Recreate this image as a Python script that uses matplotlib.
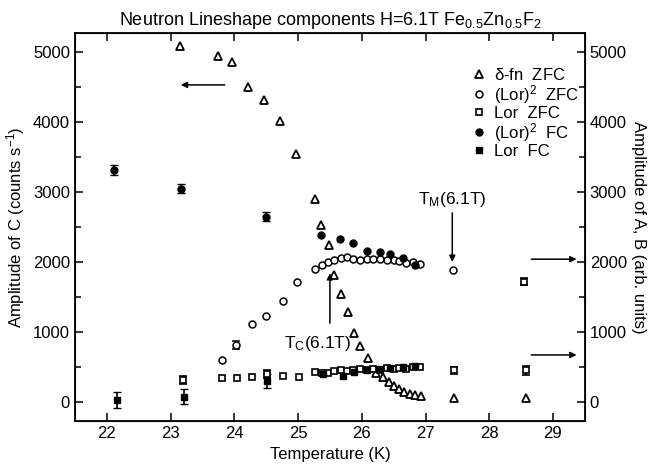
import numpy as np
import matplotlib.pyplot as plt

plt.rcParams['font.family'] = ['Liberation Sans', 'DejaVu Sans']
plt.rcParams['mathtext.fontset'] = 'custom'
plt.rcParams['mathtext.rm'] = 'Liberation Sans'
plt.rcParams['mathtext.it'] = 'Liberation Sans'

# delta-fn ZFC (triangles)
t_delta = [23.14, 23.74, 23.97, 24.21, 24.47, 24.71, 24.97, 25.26, 25.36, 25.48,
           25.57, 25.67, 25.79, 25.88, 25.97, 26.10, 26.22, 26.33, 26.42, 26.51,
           26.59, 26.67, 26.75, 26.83, 26.93, 27.44, 28.57]
a_delta = [5086, 4947, 4861, 4496, 4314, 4019, 3543, 2896, 2524, 2247,
           1810, 1538, 1290, 981, 800, 633, 420, 350, 290, 230,
           180, 140, 115, 95, 85, 52, 52]

# (Lor)^2 ZFC (open circles)
t_lor2_zfc = [23.80, 24.27, 24.50, 24.76, 24.99, 25.27, 25.37, 25.47, 25.57, 25.67,
              25.77, 25.87, 25.97, 26.08, 26.18, 26.29, 26.39, 26.50, 26.59, 26.70,
              26.80, 26.92, 27.43]
a_lor2_zfc = [600, 1114, 1233, 1438, 1719, 1900, 1953, 2000, 2024, 2061,
              2067, 2047, 2029, 2043, 2039, 2039, 2033, 2024, 2014, 1981,
              1996, 1967, 1881]

# Lor ZFC (open squares)
t_lor_zfc = [23.80, 24.04, 24.27, 24.76, 25.01, 25.27, 25.37, 25.47, 25.57, 25.67,
             25.77, 25.87, 25.97, 26.08, 26.18, 26.29, 26.39, 26.50, 26.59, 26.70,
             26.80, 26.92]
a_lor_zfc = [347, 347, 357, 376, 361, 429, 410, 420, 440, 450,
             440, 460, 470, 450, 470, 460, 480, 470, 490, 470,
             500, 500]

# (Lor)^2 FC (filled circles)
t_lor2_fc = [25.36, 25.66, 25.86, 26.08, 26.29, 26.44, 26.65, 26.84]
a_lor2_fc = [2390, 2333, 2271, 2161, 2143, 2114, 2061, 1957]

# Lor FC (filled squares)
t_lor_fc = [25.39, 25.70, 25.88, 26.08, 26.29, 26.44, 26.65, 26.84]
a_lor_fc = [400, 376, 433, 460, 470, 480, 500, 520]

# points with error bars
t_c_err = [22.12, 23.17, 24.49]
a_c_err = [3314, 3047, 2647]
e_c_err = [70, 65, 60]

t_fc_err = [22.16, 23.21, 24.52]
a_fc_err = [29, 76, 300]
e_fc_err = [110, 105, 95]

t_zfc_err = [23.20, 24.52, 27.44, 28.57, 28.55]
a_zfc_err = [314, 400, 450, 450, 1719]
e_zfc_err = [60, 60, 55, 60, 50]

t_circ_err = [24.03]
a_circ_err = [814]
e_circ_err = [55]

fig, ax = plt.subplots(figsize=(6.52, 4.72), dpi=100)
fig.subplots_adjust(left=0.115, right=0.897, top=0.930, bottom=0.107)

ms = 5
ax.plot(t_delta, a_delta, '^', ms=6, mfc='white', mec='k', mew=1.3, label=r'$\delta$-fn  ZFC')
ax.plot(t_lor2_zfc, a_lor2_zfc, 'o', ms=ms, mfc='white', mec='k', mew=1.1, label='(Lor)$^2$  ZFC')
ax.plot(t_lor_zfc, a_lor_zfc, 's', ms=ms, mfc='white', mec='k', mew=1.2, label='Lor  ZFC')
ax.plot(t_lor2_fc, a_lor2_fc, 'o', ms=ms, mfc='k', mec='k', label='(Lor)$^2$  FC')
ax.plot(t_lor_fc, a_lor_fc, 's', ms=ms - 0.5, mfc='k', mec='k', label='Lor  FC')

ax.errorbar(t_c_err, a_c_err, yerr=e_c_err, fmt='o', ms=ms, color='k', capsize=3, elinewidth=1.2)
ax.errorbar(t_fc_err, a_fc_err, yerr=e_fc_err, fmt='s', ms=ms - 0.5, color='k', capsize=3, elinewidth=1.2)
ax.errorbar(t_zfc_err, a_zfc_err, yerr=e_zfc_err, fmt='s', ms=ms, mfc='white', mec='k', mew=1.2,
            ecolor='k', capsize=3, elinewidth=1.2)
ax.errorbar(t_circ_err, a_circ_err, yerr=e_circ_err, fmt='o', ms=ms, mfc='white', mec='k', mew=1.1,
            ecolor='k', capsize=3, elinewidth=1.2)

ax.set_xlim(21.5, 29.5)
ax.set_ylim(-280, 5270)
ax.set_xticks(np.arange(22, 30, 1))
ax.set_yticks(np.arange(0, 5001, 1000))
ax.set_yticks(np.arange(500, 5001, 1000), minor=True)
ax.tick_params(axis='both', which='both', direction='in', labelsize=12, top=True)
ax.tick_params(which='major', length=6, width=1.1)
ax.tick_params(which='minor', length=4, width=1.1)
for s in ax.spines.values():
    s.set_linewidth(1.3)

ax.set_xlabel('Temperature (K)', fontsize=12)
ax.set_ylabel('Amplitude of C (counts s$^{-1}$)', fontsize=12)
ax.set_title('Neutron Lineshape components H=6.1T Fe$_{0.5}$Zn$_{0.5}$F$_2$', fontsize=13)

ax2 = ax.twinx()
ax2.set_ylim(ax.get_ylim())
ax2.set_yticks(np.arange(0, 5001, 1000))
ax2.set_yticks(np.arange(500, 5001, 1000), minor=True)
ax2.tick_params(axis='y', which='both', direction='in', labelsize=12)
ax2.tick_params(which='major', length=6, width=1.1)
ax2.tick_params(which='minor', length=4, width=1.1)
ax2.set_ylabel('Amplitude of A, B (arb. units)', fontsize=12, rotation=270, labelpad=14)

ax.legend(loc='upper left', bbox_to_anchor=(0.76, 0.93), frameon=False, fontsize=12,
          handletextpad=0.3, labelspacing=0.0, handlelength=1.2, borderaxespad=0)

arr = dict(arrowstyle='-|>', color='k', lw=1.1, mutation_scale=9, shrinkA=0, shrinkB=0)
ax.annotate('', xy=(23.16, 4529), xytext=(23.85, 4529), arrowprops=arr)
ax.annotate('', xy=(29.37, 2039), xytext=(28.66, 2039), arrowprops=arr)
ax.annotate('', xy=(29.37, 671), xytext=(28.66, 671), arrowprops=arr)
ax.annotate('', xy=(25.50, 1839), xytext=(25.50, 1124), arrowprops=arr)
ax.text(25.30, 841, 'T$_{\\rm C}$(6.1T)', fontsize=12.5, ha='center', va='center')
ax.annotate('', xy=(27.42, 2000), xytext=(27.42, 2700), arrowprops=arr)
ax.text(27.42, 2760, 'T$_{\\rm M}$(6.1T)', fontsize=12.5, ha='center', va='bottom')

plt.savefig('out.png', dpi=100)
